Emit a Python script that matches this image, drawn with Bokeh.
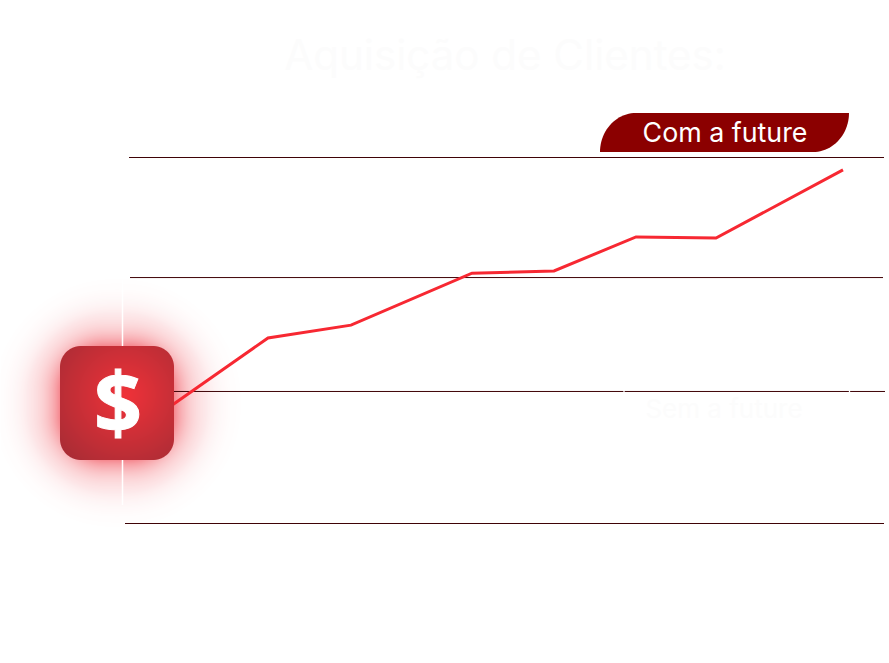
import numpy as np
from bokeh.plotting import figure
from bokeh.core.properties import value
from bokeh.embed import file_html
from bokeh.resources import INLINE

# series (x position along the chart, value 0-100 between bottom and top rule)
x_com = [173, 268, 351, 472, 554, 636, 716, 843]
y_com = [32.5, 50.7, 54.2, 68.4, 69.0, 78.3, 78.0, 96.6]
grid_values = [100.0, 67.2, 36.07, 0.0]
grid_start = [129, 130, 174, 125]
grid_end = [884, 883, 885, 884]
title = "Aquisição de Clientes:"
label_com = "Com a future"
label_sem = "Sem a future"
symbol = "$"

Y0, K = 523.5, 3.66
def yv(s):
    return (Y0 - np.asarray(s, float)) / K

W, H = 888, 640
p = figure(width=W, height=H, x_range=(0.5, W + 0.5), y_range=(float(yv(H + 0.5)), float(yv(0.5))),
           toolbar_location=None, output_backend="svg", min_border=0)
p.axis.visible = False
p.grid.visible = False
p.outline_line_color = None
p.background_fill_color = "white"

# glow + icon geometry
L, R, T, B, RAD = 60.0, 174.0, 346.0, 460.0, 21.0
cx, cy = (L + R) / 2, (T + B) / 2

def rr_dist(X, Y, rad=RAD):
    qx = np.abs(X - cx) - ((R - L) / 2 - rad)
    qy = np.abs(Y - cy) - ((B - T) / 2 - rad)
    return np.hypot(np.maximum(qx, 0), np.maximum(qy, 0)) + np.minimum(np.maximum(qx, qy), 0) - rad

# glow
gx0, gx1, gy0, gy1 = 0, 250, 275, 535
xs = np.arange(gx0, gx1) + 0.5
ys = np.arange(gy1 - 1, gy0 - 1, -1) + 0.5
X, Y = np.meshgrid(xs, ys)
d = np.maximum(rr_dist(X, Y, 45.0), 0)
alpha = 0.5 * np.exp(-d / 16.0) + 0.09 * np.exp(-d / 42.0)
alpha *= np.clip((130 - np.hypot(X - cx, Y - cy)) / 40, 0, 1)
glow = np.zeros(X.shape + (4,), dtype=np.uint8)
glow[..., 0] = 238
glow[..., 1] = 50
glow[..., 2] = 62
glow[..., 3] = np.clip(alpha * 255, 0, 255).astype(np.uint8)
glow_img = glow.view(dtype=np.uint32).reshape(X.shape)
p.image_rgba(image=[glow_img], x=gx0, y=float(yv(gy1)), dw=gx1 - gx0, dh=(gy1 - gy0) / K)

# rules
for g, a, b in zip(grid_values, grid_start, grid_end):
    p.segment(x0=[a], y0=[g], x1=[b], y1=[g], line_color="#3f0306", line_width=1)

# white hidden axis and ticks
p.segment(x0=[122.5], y0=[float(yv(280))], x1=[122.5], y1=[float(yv(505))], line_color="white", line_width=1.5)
p.segment(x0=[624, 849.5], y0=[float(yv(389))] * 2, x1=[624, 849.5], y1=[float(yv(394))] * 2,
          line_color="white", line_width=1.3)

# red series
p.line(x_com, y_com, line_color="#f72832", line_width=3, line_join="miter")

# icon
ix = np.arange(L - 1, R + 1) + 0.5
iy = np.arange(B, T - 2, -1) + 0.5
IX, IY = np.meshgrid(ix, iy)
t = np.clip(np.hypot(IX - 125, IY - 395) / 92.0, 0, 1)
c0, c1 = np.array([240, 50, 57.0]), np.array([163, 44, 53.0])
rgb = c0[None, None, :] + (c1 - c0)[None, None, :] * t[..., None]
ia = np.clip(0.5 - rr_dist(IX, IY), 0, 1)
ic = np.zeros(IX.shape + (4,), dtype=np.uint8)
ic[..., :3] = rgb.astype(np.uint8)
ic[..., 3] = (ia * 255).astype(np.uint8)
p.image_rgba(image=[ic.view(dtype=np.uint32).reshape(IX.shape)], x=L - 1, y=float(yv(B + 1)),
             dw=R - L + 2, dh=(B - T + 2) / K)
p.text(x=[118], y=[float(yv(400))], text=[symbol], text_color="white", text_font=value("Open Sans"),
       text_font_style="bold", text_font_size="84px", text_align="center", text_baseline="middle",
       text_outline_color="white")

# pill: top-left arc, top-right corner, bottom-right arc, bottom-left corner
pl, pr, pt, pb, rx, ry = 600.0, 849.0, 113.0, 152.0, 36.0, 39.0
th = np.linspace(0, np.pi / 2, 24)
tlx = pl + rx - rx * np.cos(th)
tly = pb - ry * np.sin(th)
brx = pr - rx + rx * np.cos(th)
bry = pt + ry * np.sin(th)
px = np.concatenate([tlx, [pr], brx, [pl]])
py = np.concatenate([tly, [pt], bry, [pb]])
p.patch(px.tolist(), yv(py).tolist(), fill_color="#8b0000", line_color=None)

p.text(x=[725], y=[float(yv(132))], text=[label_com], text_color="white", text_font=value("Inter"),
       text_font_size="26.8px", text_align="center", text_baseline="middle")
p.text(x=[724], y=[float(yv(408))], text=[label_sem], text_color="#fcfcfc", text_font=value("Inter"),
       text_font_size="26px", text_align="center", text_baseline="middle")
p.text(x=[505], y=[float(yv(54))], text=[title], text_color="#fcfcfc", text_font=value("Inter"),
       text_font_size="42px", text_align="center", text_baseline="middle")

open("out.html", "w").write(file_html(p, INLINE))
